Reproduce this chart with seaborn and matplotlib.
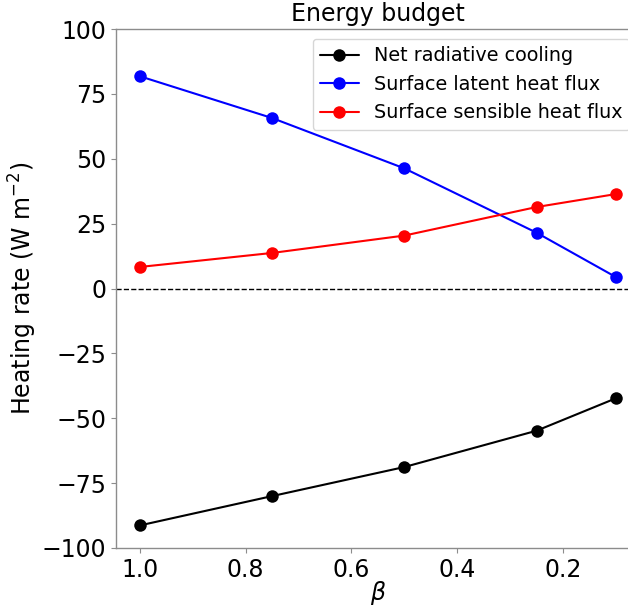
import numpy as np
import pandas as pd
import matplotlib
matplotlib.use("Agg")
import matplotlib.pyplot as plt
import seaborn as sns

# --------------------------------
# Data
# --------------------------------
beta = [1.0, 0.75, 0.5, 0.25, 0.1]
net_rad_cooling = [-91.3, -80.0, -68.8, -54.8, -42.3]
latent_flux = [81.8, 65.7, 46.3, 21.5, 4.4]
sensible_flux = [8.3, 13.7, 20.4, 31.4, 36.4]

series_names = ["Net radiative cooling", "Surface latent heat flux",
                "Surface sensible heat flux"]
series_colors = ["black", "blue", "red"]
yticks = [-100, -75, -50, -25, 0, 25, 50, 75, 100]
xticks = [1.0, 0.8, 0.6, 0.4, 0.2]


def main():
    sns.set_style("white")
    plt.rcParams["font.family"] = ["DejaVu Sans"]
    plt.rcParams["text.color"] = "black"
    plt.rcParams["axes.labelcolor"] = "black"
    plt.rcParams["xtick.color"] = "black"
    plt.rcParams["ytick.color"] = "black"

    fig = plt.figure(figsize=(6.28, 6.07), dpi=100)
    # right edge of the axes runs past the figure, as in the reference
    ax = fig.add_axes([0.1847, 0.0972, 0.834, 0.855])

    df = pd.DataFrame({
        "beta": beta * 3,
        "value": net_rad_cooling + latent_flux + sensible_flux,
        "series": np.repeat(series_names, len(beta)),
    })

    for name, col in zip(series_names, series_colors):
        sub = df[df["series"] == name]
        sns.lineplot(data=sub, x="beta", y="value", color=col, marker="o",
                     markersize=9, markeredgewidth=0, linewidth=1.5,
                     label=name, ax=ax)

    ax.axhline(0, color="black", linestyle="--", linewidth=1.0)

    ax.set_ylim(-100, 100)
    ax.set_yticks(yticks)
    ax.set_xticks(xticks)
    ax.set_xticklabels([f"{t:.1f}" for t in xticks])
    ax.invert_xaxis()

    for side in ["left", "bottom", "top", "right"]:
        ax.spines[side].set_color("0.55")
        ax.spines[side].set_linewidth(1.0)
    ax.tick_params(axis="both", which="major", labelsize=17, length=3.5,
                   width=0.8, color="0.55", labelcolor="black",
                   direction="out", bottom=True, left=True)

    ax.set_xlabel(r"$\beta$", fontsize=17, labelpad=-2)
    ax.set_ylabel(r"Heating rate (W m$^{-2}$)", fontsize=17, labelpad=2)
    ax.set_title("Energy budget", fontsize=17, color="black")

    ax.legend(loc="upper right", fontsize=13.8, frameon=True)

    fig.savefig("out.png", dpi=100)
    plt.close(fig)


if __name__ == "__main__":
    main()
